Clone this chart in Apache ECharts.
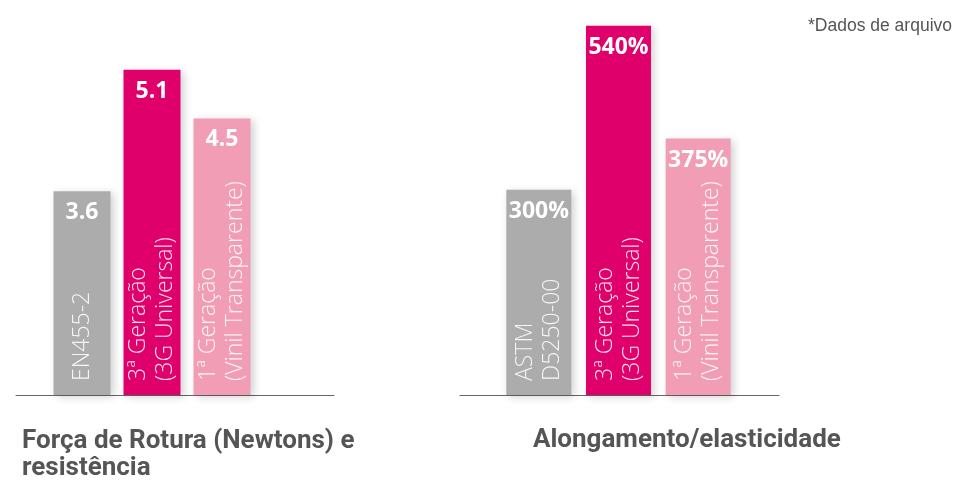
<!DOCTYPE html>
<html>
<head>
<meta charset="utf-8">
<script src="https://cdn.jsdelivr.net/npm/echarts@6/dist/echarts.min.js"></script>
<style>
html,body{margin:0;padding:0;background:#fff;}
#c{width:956px;height:480px;}
</style>
</head>
<body>
<div id="c"></div>
<script>
const forceCategories = ['EN455-2', '3ª Geração\n(3G Universal)', '1ª Geração\n(Vinil Transparente)'];
const forceValues = [3.6, 5.1, 4.5];
const elongCategories = ['ASTM\nD5250-00', '3ª Geração\n(3G Universal)', '1ª Geração\n(Vinil Transparente)'];
const elongValues = [300, 540, 375];
const barColors = ['#acacac', '#e0006b', '#f09db5'];
const titleForce = 'Força de Rotura (Newtons) e\nresistência';
const titleElong = 'Alongamento/elasticidade';
const noteText = '*Dados de arquivo';

const chart = echarts.init(document.getElementById('c'), null, {renderer: 'canvas'});

function items(values) {
  return values.map((v, i) => ({value: v, itemStyle: {color: barColors[i]}}));
}
const catLabel = {
  show: true, inside: true, rotate: 90, margin: 14, interval: 0,
  align: 'left', verticalAlign: 'middle',
  color: 'rgba(255,255,255,0.88)', fontFamily: 'Open Sans', fontWeight: 300,
  fontSize: 23, lineHeight: 27
};
const hiddenCat = (grid, data) => ({
  type: 'category', gridIndex: grid, data: data, z: 5,
  axisLine: {show: false}, axisTick: {show: false}, splitLine: {show: false},
  axisLabel: catLabel
});
const baseAxis = (grid) => ({
  type: 'value', gridIndex: grid, min: 0, max: 1,
  axisLine: {show: true, onZero: false, lineStyle: {color: '#666', width: 1}},
  axisTick: {show: false}, axisLabel: {show: false}, splitLine: {show: false}
});
const hiddenVal = (grid, min, max) => ({
  type: 'value', gridIndex: grid, min: min, max: max, show: false, splitLine: {show: false}
});
const valLabel = (fmt) => ({
  show: true, position: 'insideTop', distance: 10, formatter: fmt,
  color: '#fff', fontFamily: 'Open Sans', fontWeight: 'bold', fontSize: 23
});
const shadow = {shadowBlur: 8, shadowColor: 'rgba(0,0,0,0.18)', shadowOffsetX: 3, shadowOffsetY: 2};
const titleStyle = {fontFamily: 'Roboto', fontWeight: 'bold', fontSize: 26, lineHeight: 27, color: '#555'};

chart.setOption({
  animation: false,
  title: [
    {text: titleForce, left: 22, top: 428, padding: 0, textStyle: titleStyle},
    {text: titleElong, left: 533, top: 427, padding: 0, textStyle: titleStyle},
    {text: noteText, right: 4, top: 17, padding: 0,
     textStyle: {fontFamily: 'Liberation Sans', fontWeight: 'normal', fontSize: 17.5, color: '#555'}}
  ],
  grid: [
    {left: 47, width: 210, top: 37.5, bottom: 85},
    {left: 16, width: 318, top: 37.5, bottom: 85},
    {left: 499, width: 239, top: 12, bottom: 85},
    {left: 460, width: 319, top: 12, bottom: 85}
  ],
  xAxis: [hiddenCat(0, forceCategories), baseAxis(1), hiddenCat(2, elongCategories), baseAxis(3)],
  yAxis: [hiddenVal(0, 1.08, 5.5), hiddenVal(1, 0, 1), hiddenVal(2, 0, 560), hiddenVal(3, 0, 1)],
  series: [
    {type: 'bar', xAxisIndex: 0, yAxisIndex: 0, barWidth: 57, data: items(forceValues),
     itemStyle: shadow, label: valLabel('{c}'), z: 2},
    {type: 'bar', xAxisIndex: 2, yAxisIndex: 2, barWidth: 65, data: items(elongValues),
     itemStyle: shadow, label: valLabel('{c}%'), z: 2}
  ]
});
</script>
</body>
</html>
